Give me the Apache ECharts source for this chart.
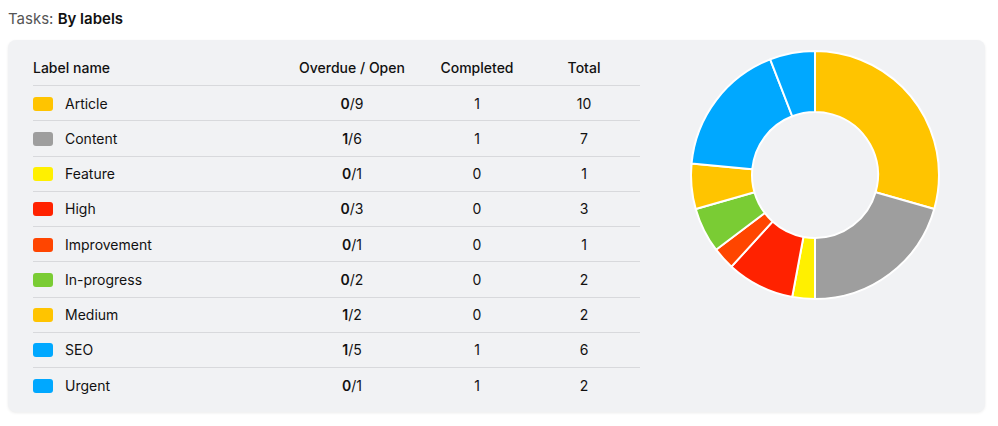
<!DOCTYPE html>
<html>
<head>
<meta charset="utf-8">
<script src="https://cdn.jsdelivr.net/npm/echarts@6/dist/echarts.min.js"></script>
<style>
  html, body { margin: 0; padding: 0; background: #fff; }
  body { font-family: Inter, "Noto Sans", sans-serif; color: #111; width: 998px; height: 426px; position: relative; overflow: hidden; }
  .title { position: absolute; left: 8px; top: 9px; font-size: 15px; color: #555; }
  .title b { color: #111; font-weight: 600; }
  .panel { position: absolute; left: 8px; top: 40px; width: 977px; height: 372px; background: #f1f2f4; border-radius: 8px; box-shadow: 0 1px 3px rgba(0,0,0,0.08); }
  table { position: absolute; left: 25px; top: 10px; border-collapse: collapse; font-size: 14px; }
  th { font-weight: 500; height: 35px; text-align: center; border-bottom: 1px solid #d8d9dc; padding: 0; }
  td { height: 34.25px; text-align: center; border-bottom: 1px solid #d8d9dc; padding: 0; }
  tr:last-child td { border-bottom: none; }
  th.name, td.name { text-align: left; }
  .sw { display: inline-block; width: 20px; height: 14px; border-radius: 3px; vertical-align: -2px; margin-right: 12px; }
  #chart { position: absolute; left: 652px; top: 0; width: 310px; height: 372px; }
</style>
</head>
<body>
<div class="title">Tasks: <b>By labels</b></div>
<div class="panel">
  <table id="tbl"></table>
  <div id="chart"></div>
</div>
<script>
// 标签数据
var labels = ['Article', 'Content', 'Feature', 'High', 'Improvement', 'In-progress', 'Medium', 'SEO', 'Urgent'];
var overdue = [0, 1, 0, 0, 0, 0, 1, 1, 0];
var open = [9, 6, 1, 3, 1, 2, 2, 5, 1];
var completed = [1, 1, 0, 0, 0, 0, 0, 1, 1];
var total = [10, 7, 1, 3, 1, 2, 2, 6, 2];
var colors = ['#ffc400', '#9e9e9e', '#fff000', '#ff2200', '#ff4500', '#7acc34', '#ffc400', '#00a8ff', '#00a8ff'];

// 表格
var html = '<tr><th class="name" style="width:257px">Label name</th>' +
  '<th style="width:124px">Overdue / Open</th>' +
  '<th style="width:126px">Completed</th>' +
  '<th style="width:88px;padding-right:12px">Total</th></tr>';
labels.forEach(function (l, i) {
  html += '<tr><td class="name"><span class="sw" style="background:' + colors[i] + '"></span>' + l + '</td>' +
    '<td><b style="font-weight:600">' + overdue[i] + '</b>/' + open[i] + '</td>' +
    '<td>' + completed[i] + '</td>' +
    '<td style="padding-right:12px">' + total[i] + '</td></tr>';
});
document.getElementById('tbl').innerHTML = html;

// 环形图
var chart = echarts.init(document.getElementById('chart'));
var option = {
  animation: false,
  series: [{
    type: 'pie',
    center: [155, 135],
    radius: [63, 124],
    startAngle: 90,
    clockwise: true,
    label: { show: false },
    labelLine: { show: false },
    emphasis: { disabled: true },
    itemStyle: { borderColor: '#fff', borderWidth: 2 },
    data: labels.map(function (l, i) {
      return { name: l, value: total[i], itemStyle: { color: colors[i] } };
    })
  }]
};
chart.setOption(option);
</script>
</body>
</html>
